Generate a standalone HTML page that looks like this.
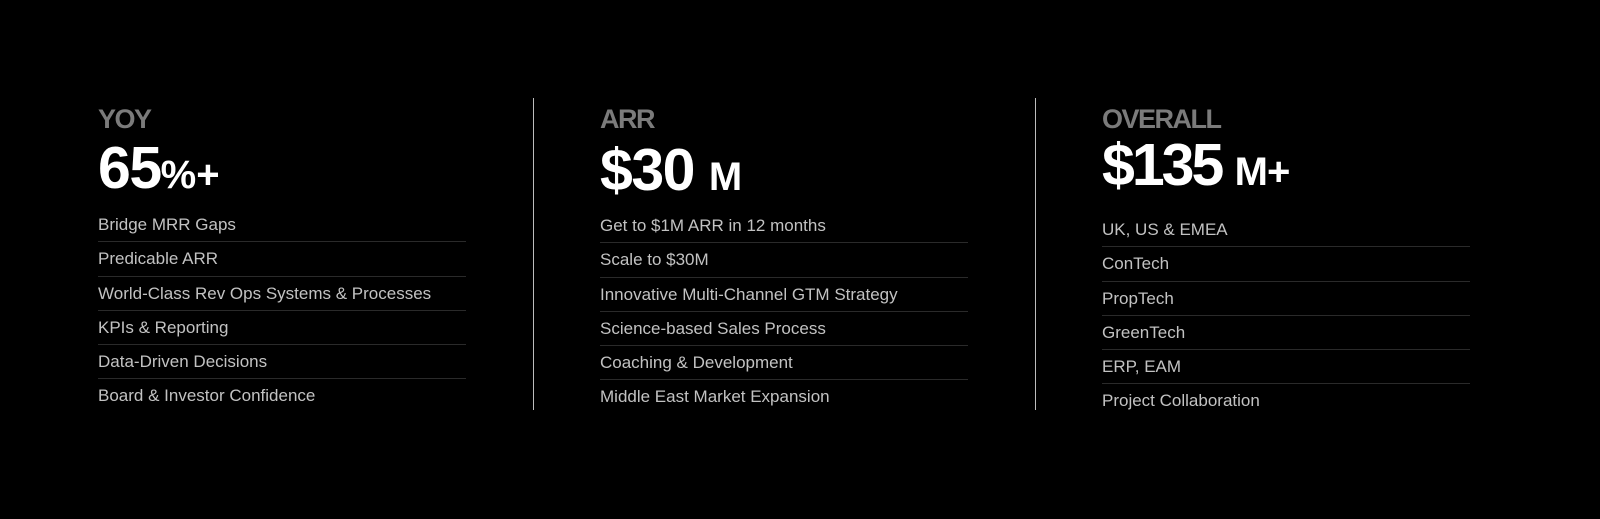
<!DOCTYPE html>
<html><head><meta charset="utf-8"><style>
body{margin:0;width:1600px;height:519px;background:#000;overflow:hidden;font-family:"Liberation Sans",sans-serif;position:relative}
.col{position:absolute;width:368px}
.t{position:absolute;left:0;font-size:27px;font-weight:bold;color:#7b7b7b;letter-spacing:-1.5px}
.n{position:absolute;left:0;font-size:59px;font-weight:bold;color:#fff;letter-spacing:-1.5px;white-space:nowrap}
.n small{font-size:40px;letter-spacing:0}
ul{position:absolute;left:0;margin:0;padding:0;list-style:none;width:368px}
li{height:33.3px;line-height:33px;border-bottom:1px solid #2a2a2a;color:#c2c2c2;font-size:17px}
li:last-child{border-bottom:none}
.div{position:absolute;top:98px;width:1px;height:312px;background:#bdbdbd}
</style></head><body>
<div class="col" style="left:98px;top:0">
 <div class="t" style="top:104px">YOY</div>
 <div class="n" style="top:134px">65<small>%+</small></div>
 <ul style="top:208px">
  <li>Bridge MRR Gaps</li>
  <li>Predicable ARR</li>
  <li>World-Class Rev Ops Systems &amp; Processes</li>
  <li>KPIs &amp; Reporting</li>
  <li>Data-Driven Decisions</li>
  <li>Board &amp; Investor Confidence</li>
 </ul>
</div>
<div class="div" style="left:533px"></div>
<div class="col" style="left:600px;top:0">
 <div class="t" style="top:104px">ARR</div>
 <div class="n" style="top:136px">$30 <small>M</small></div>
 <ul style="top:209px">
  <li>Get to $1M ARR in 12 months</li>
  <li>Scale to $30M</li>
  <li>Innovative Multi-Channel GTM Strategy</li>
  <li>Science-based Sales Process</li>
  <li>Coaching &amp; Development</li>
  <li>Middle East Market Expansion</li>
 </ul>
</div>
<div class="div" style="left:1035px"></div>
<div class="col" style="left:1102px;top:0">
 <div class="t" style="top:104px">OVERALL</div>
 <div class="n" style="top:131px;letter-spacing:-3px">$135 <small style="letter-spacing:-1px">M+</small></div>
 <ul style="top:213px">
  <li>UK, US &amp; EMEA</li>
  <li>ConTech</li>
  <li>PropTech</li>
  <li>GreenTech</li>
  <li>ERP, EAM</li>
  <li>Project Collaboration</li>
 </ul>
</div>
</body></html>
